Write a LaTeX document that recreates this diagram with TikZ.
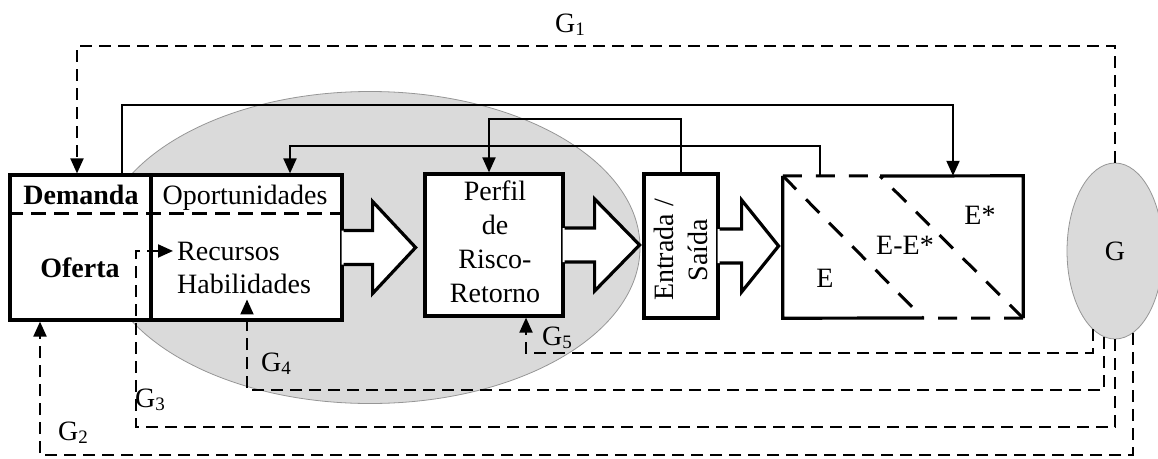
\documentclass[tikz,border=0pt]{standalone}
\usepackage{fontspec}
\setmainfont{Liberation Serif}
\usetikzlibrary{arrows.meta,calc,shapes.geometric}
\definecolor{blobgray}{RGB}{218,218,218}
\definecolor{edgegray}{RGB}{150,150,150}
% G with a lowered numeral
\newcommand{\gsub}[1]{G\raisebox{-3pt}{\fontsize{19}{19}\selectfont #1}}
% open-ended block arrow leaving a box edge: #1 start point, #2 shaft length, #3 head length
\newcommand{\blockarrow}[3]{%
  \fill[white] ($(#1)+(-2,-17)$) -- ($(#1)+(#2,-17)$) -- ($(#1)+(#2,-46)$)
    -- ($(#1)+(#2+#3,0)$) -- ($(#1)+(#2,46)$) -- ($(#1)+(#2,17)$) -- ($(#1)+(-2,17)$) -- cycle;
  \draw[boxline] ($(#1)+(0,-17)$) -- ($(#1)+(#2,-17)$) -- ($(#1)+(#2,-46)$)
    -- ($(#1)+(#2+#3,0)$) -- ($(#1)+(#2,46)$) -- ($(#1)+(#2,17)$) -- ($(#1)+(0,17)$);
}
\tikzset{
  boxline/.style={line width=3.2pt, line join=miter},
  boxdash/.style={line width=3pt, dash pattern=on 19pt off 14pt},
  panel/.style={draw, rectangle, line width=3.2pt, fill=white, inner sep=0pt},
  conn/.style={line width=2pt},
  gdash/.style={line width=2pt, dash pattern=on 12pt off 7pt},
  arr/.style={-{Triangle[length=15pt,width=13pt]}},
  txt/.style={inner sep=0pt, font=\fontsize{28}{34}\selectfont},
  btxt/.style={inner sep=0pt, font=\fontsize{28}{34}\selectfont\bfseries},
  blob/.style={ellipse, fill=blobgray, draw=edgegray, line width=0.8pt, inner sep=0pt},
}
\begin{document}
\begin{tikzpicture}[x=1pt,y=-1pt]
\useasboundingbox (0,0) rectangle (1158,458);

% shaded region behind the first stages
\node[blob, minimum width=540pt, minimum height=312pt] (mkt) at (370,247.5) {};

% Demanda / Oferta and Oportunidades / Recursos boxes
\node[panel, minimum width=141pt, minimum height=145pt] (D) at (80.5,247.5) {};
\node[panel, minimum width=191pt, minimum height=145pt] (O) at (246.5,247.5) {};
\coordinate (dl) at (0,213);
\draw[line width=3pt, dash pattern=on 15pt off 8pt] (D.west |- dl) -- (O.east |- dl);
\node[btxt, anchor=base] (dem) at (81,204) {Demanda};
\node[btxt, anchor=base] (ofe) at (80,277) {Oferta};
\node[txt, anchor=base] (opo) at (245,204) {Oportunidades};
\node[txt, anchor=base west, inner xsep=4pt] (Rec) at (173,260) {Recursos};
\node[txt, anchor=base west, inner ysep=6pt] (Hab) at (177,293) {Habilidades};

% risk-return profile
\node[panel, minimum width=138pt, minimum height=142pt] (P) at (494,245) {};
\node[txt, align=center] (ptxt) at (495,242) {Perfil\\de\\Risco-\\Retorno};

% entry / exit
\node[panel, minimum width=74pt, minimum height=144pt] (Es) at (681,246) {};
\node[txt, align=center, rotate=90] (estxt) at (680.5,250) {Entrada /\\Saída};

% E box split by two dashed diagonals
\node[rectangle, fill=white, inner sep=0pt, minimum width=240pt, minimum height=142pt] (Eb) at (903,247) {};
\coordinate (et) at (880,176);
\coordinate (eb) at (923,318);
\draw[boxline] (Eb.north west) -- (Eb.south west) -- (eb);
\draw[boxline] (et) -- (Eb.north east) -- (Eb.south east);
\draw[boxdash] (Eb.north west) -- (et);
\draw[boxdash] (Eb.south east) -- (eb);
\draw[boxdash] (Eb.north west) -- (eb);
\draw[boxdash] (Eb.south east) -- (et);
\node[txt, anchor=base] (e1) at (825,287) {E};
\node[txt, anchor=base] (e2) at (905,254) {E-E*};
\node[txt, anchor=base] (e3) at (980,224) {E*};

% flow between the stages
\blockarrow{O.east}{29}{43}
\blockarrow{P.east}{30}{45}
\blockarrow{Es.east}{22}{37}

% government
\node[blob, minimum width=96pt, minimum height=176pt, font=\fontsize{28}{34}\selectfont] (G) at (1115,251) {G};

% solid feedback links
\coordinate (a1) at (122,105);
\coordinate (a2) at (953,105);
\draw[conn,arr] (D.north -| a1) -- (a1) -- (a2) -- (Eb.north -| a2);
\coordinate (b2) at (489,119);
\draw[conn,arr] (Es.north) |- (b2) -- (P.north -| b2);
\coordinate (c1) at (820,146);
\coordinate (c2) at (290,146);
\draw[conn,arr] (Eb.north -| c1) -- (c1) -- (c2) -- (O.north -| c2);

% policy channels G1 ... G5
\coordinate (g1) at (77,46);
\coordinate (g2) at (40,455);
\coordinate (g3) at (136,427);
\coordinate (g4) at (247,390);
\coordinate (g5) at (526,353);
\draw[gdash,arr] (G.north) |- (g1) -- (g1 |- D.north);
\draw[gdash,arr] (G.282) |- (g2) -- (g2 |- D.south);
\draw[gdash,arr] (G.south) |- (g3) |- (Rec.west);
\draw[gdash,arr] (G.263) |- (g4) -- (g4 |- Hab.south);
\draw[gdash,arr] (G.254) |- (g5) -- (g5 |- P.south);

\node[txt, anchor=base west] (l1) at (555,32) {\gsub{1}};
\node[txt, anchor=base west] (l2) at (58,440) {\gsub{2}};
\node[txt, anchor=base west] (l3) at (135,407) {\gsub{3}};
\node[txt, anchor=base west] (l4) at (261,371) {\gsub{4}};
\node[txt, anchor=base west] (l5) at (542,345) {\gsub{5}};
\end{tikzpicture}
\end{document}
